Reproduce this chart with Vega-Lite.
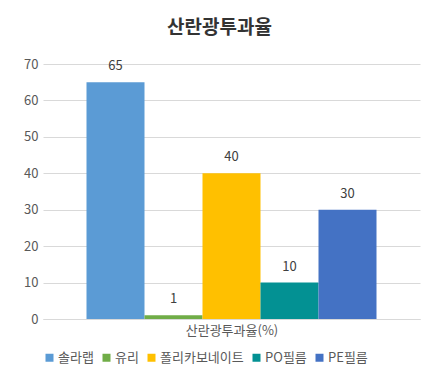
{
  "$schema": "https://vega.github.io/schema/vega-lite/v6.json",
  "autosize": "none",
  "width": 377,
  "height": 255,
  "padding": {"left": 43, "top": 64, "right": 20, "bottom": 64},
  "background": "white",
  "config": {
    "font": "Noto Sans CJK KR",
    "view": {"stroke": null}
  },
  "title": {
    "text": "산란광투과율",
    "fontSize": 19,
    "fontWeight": "bold",
    "color": "#333333",
    "offset": 20,
    "dx": -12
  },
  "data": {
    "values": [
      {"cat": "산란광투과율(%)", "name": "솔라랩", "value": 65},
      {"cat": "산란광투과율(%)", "name": "유리", "value": 1},
      {"cat": "산란광투과율(%)", "name": "폴리카보네이트", "value": 40},
      {"cat": "산란광투과율(%)", "name": "PO필름", "value": 10},
      {"cat": "산란광투과율(%)", "name": "PE필름", "value": 30}
    ]
  },
  "encoding": {
    "x": {
      "field": "name",
      "type": "nominal",
      "sort": ["솔라랩", "유리", "폴리카보네이트", "PO필름", "PE필름"],
      "scale": {"paddingInner": 0, "paddingOuter": 0.75},
      "axis": {
        "title": "산란광투과율(%)",
        "labels": false,
        "ticks": false,
        "domain": true,
        "domainColor": "#D9D9D9",
        "titleFontSize": 13,
        "titleFontWeight": "normal",
        "titleColor": "#595959",
        "titlePadding": 5
      }
    },
    "y": {
      "field": "value",
      "type": "quantitative",
      "scale": {"domain": [0, 70]},
      "axis": {
        "title": null,
        "values": [0, 10, 20, 30, 40, 50, 60, 70],
        "domain": false,
        "ticks": false,
        "gridColor": "#D9D9D9",
        "labelColor": "#595959",
        "labelFontSize": 13,
        "labelPadding": 5
      }
    }
  },
  "layer": [
    {
      "mark": {"type": "bar"},
      "encoding": {
        "color": {
          "field": "name",
          "type": "nominal",
          "sort": ["솔라랩", "유리", "폴리카보네이트", "PO필름", "PE필름"],
          "scale": {
            "domain": ["솔라랩", "유리", "폴리카보네이트", "PO필름", "PE필름"],
            "range": ["#5B9BD5", "#70AD47", "#FFC000", "#039193", "#4472C4"]
          },
          "legend": {
            "title": null,
            "orient": "bottom",
            "direction": "horizontal",
            "symbolType": "square",
            "symbolSize": 64,
            "symbolStrokeWidth": 0,
            "labelFontSize": 13,
            "labelColor": "#595959",
            "labelOffset": 2,
            "columnPadding": 6,
            "offset": 14
          }
        }
      }
    },
    {
      "mark": {"type": "text", "dy": -16, "fontSize": 13, "color": "#404040"},
      "encoding": {
        "text": {"field": "value", "type": "quantitative"}
      }
    }
  ]
}
